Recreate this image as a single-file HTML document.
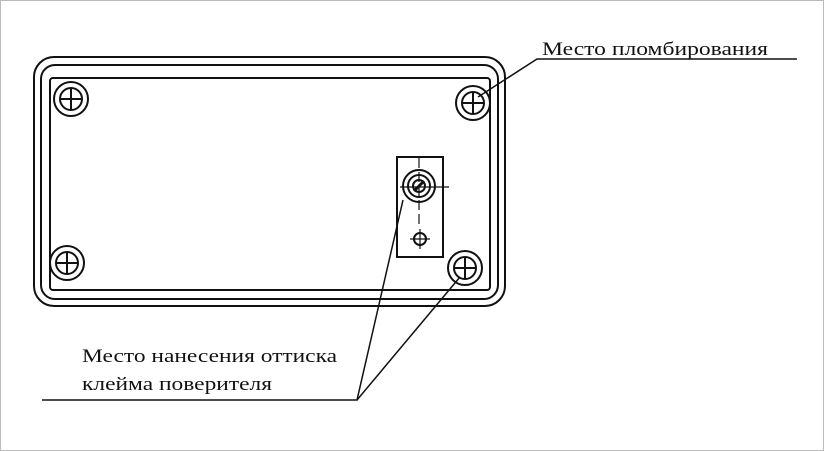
<!DOCTYPE html>
<html><head><meta charset="utf-8"><style>
html,body{margin:0;padding:0;background:#fff;}
svg{display:block;}
text{font-family:"Liberation Serif","DejaVu Serif",serif;fill:#111;}
</style></head><body>
<svg width="824" height="451" viewBox="0 0 824 451" xmlns="http://www.w3.org/2000/svg">
<rect x="0.5" y="0.5" width="823" height="450" fill="#fff" stroke="#bbb" stroke-width="1"/>
<g fill="none" stroke="#111" stroke-width="2">
<rect x="34" y="57" width="471" height="249" rx="20"/>
<rect x="41" y="65" width="457" height="234" rx="14"/>
<rect x="50" y="78" width="440" height="212" rx="3"/>
<!-- screws -->
<g id="s1"><circle cx="71" cy="99" r="17"/><circle cx="71" cy="99" r="11"/><line x1="60" y1="99" x2="82" y2="99"/><line x1="71" y1="88" x2="71" y2="110"/></g>
<circle cx="473" cy="103" r="17"/><circle cx="473" cy="103" r="11"/><line x1="462" y1="103" x2="484" y2="103"/><line x1="473" y1="92" x2="473" y2="114"/>
<circle cx="67" cy="263" r="17"/><circle cx="67" cy="263" r="11"/><line x1="56" y1="263" x2="78" y2="263"/><line x1="67" y1="252" x2="67" y2="274"/>
<circle cx="465" cy="268" r="17"/><circle cx="465" cy="268" r="11"/><line x1="454" y1="268" x2="476" y2="268"/><line x1="465" y1="257" x2="465" y2="279"/>
<!-- plate -->
<rect x="397" y="157" width="46" height="100"/>
<circle cx="419" cy="186" r="16"/><circle cx="419" cy="186" r="11"/><circle cx="419" cy="186" r="6"/>
<line x1="414" y1="191" x2="424" y2="181" stroke-width="3"/>
<line x1="400" y1="187" x2="449" y2="187" stroke-width="1.2"/>
<line x1="419" y1="158" x2="419" y2="225" stroke-width="1.2" stroke-dasharray="10,4"/>
<circle cx="420" cy="239" r="6"/>
<line x1="410" y1="239" x2="430" y2="239" stroke-width="1.2"/><line x1="420" y1="229" x2="420" y2="249" stroke-width="1.2"/>
<!-- leaders -->
<polyline points="403,200 357,400 42,400" stroke-width="1.5"/>
<line x1="460" y1="277" x2="357" y2="400" stroke-width="1.5"/>
<polyline points="478,97 537,59 797,59" stroke-width="1.5"/>
</g>
<text x="542" y="55" font-size="19" textLength="226" lengthAdjust="spacingAndGlyphs">Место пломбирования</text>
<text x="82" y="362" font-size="19" textLength="255" lengthAdjust="spacingAndGlyphs">Место нанесения оттиска</text>
<text x="82" y="390" font-size="19" textLength="190" lengthAdjust="spacingAndGlyphs">клейма поверителя</text>
</svg>
</body></html>
